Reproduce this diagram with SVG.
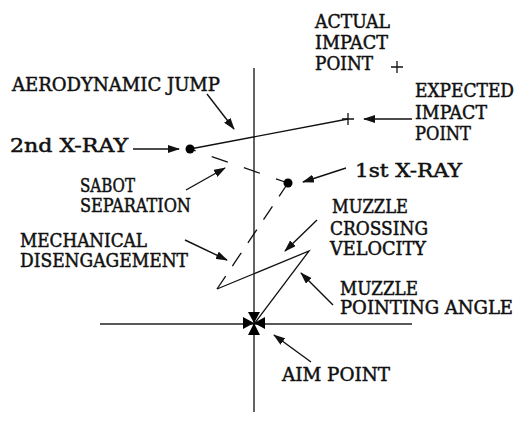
<svg xmlns="http://www.w3.org/2000/svg" width="519" height="425" viewBox="0 0 519 425">
<style>
text{font-family:"DejaVu Serif Condensed","DejaVu Serif",serif;font-stretch:condensed;font-size:18px;fill:#111;stroke:#111;stroke-width:0.45}
.ln{stroke:#111;stroke-width:1.3;fill:none}
.ax{stroke:#222;stroke-width:1.4;fill:none}
.ar{stroke:#111;stroke-width:1.4;fill:none;marker-end:url(#ah)}
.dash{stroke:#111;stroke-width:1.3;fill:none;stroke-dasharray:17 17}
.dash2{stroke:#111;stroke-width:1.3;fill:none;stroke-dasharray:16 12}
</style>
<defs>
<marker id="ah" markerWidth="12" markerHeight="8" refX="11" refY="4" orient="auto" markerUnits="userSpaceOnUse">
<path d="M0,0 L12,4 L0,8 Z" fill="#111"/>
</marker>
</defs>
<rect width="519" height="425" fill="#fff"/>
<g id="axes">
<line class="ax" x1="254" y1="68" x2="254" y2="412"/>
<line class="ax" x1="100" y1="324" x2="412" y2="324"/>
</g>
<g id="trajectory">
<line class="ln" x1="190" y1="149" x2="348" y2="119"/>
<line class="dash" x1="190" y1="149" x2="288" y2="183" stroke-dashoffset="-23"/>
<line class="dash2" x1="288" y1="183" x2="217" y2="289"/>
<polyline class="ln" points="217,289 309,251 254,324"/>
</g>
<g id="aim-point">
<path d="M254,323 L248,312 L260,312 Z M254,323 L248,335 L260,335 Z M254,323 L243,317 L243,329 Z M254,323 L265,317 L265,329 Z" fill="#000"/>
</g>
<g id="xray2"><circle cx="190" cy="149" r="4.5" fill="#000"/></g>
<g id="xray1"><circle cx="288" cy="183" r="4.5" fill="#000"/></g>
<g id="expected-impact"><path class="ln" d="M342,119 H354 M348,113 V125"/></g>
<g id="actual-impact"><path class="ln" d="M391,67 H403 M397,61 V73"/></g>
<g id="connectors">
<line class="ar" x1="207" y1="94" x2="234" y2="129"/>
<line class="ar" x1="133" y1="149" x2="179" y2="149"/>
<line class="ar" x1="186" y1="190" x2="225" y2="168"/>
<line class="ar" x1="412" y1="119" x2="364" y2="119"/>
<line class="ar" x1="346" y1="168" x2="303" y2="182"/>
<line class="ar" x1="185" y1="240" x2="227" y2="260"/>
<line class="ar" x1="317" y1="220" x2="285" y2="251"/>
<line class="ar" x1="333" y1="305" x2="301" y2="273"/>
<line class="ar" x1="311" y1="362" x2="274" y2="335"/>
</g>
<g id="labels">
<text x="12" y="91" textLength="208" lengthAdjust="spacingAndGlyphs">AERODYNAMIC  JUMP</text>
<text x="10" y="152" textLength="118" lengthAdjust="spacingAndGlyphs">2nd  X-RAY</text>
<text x="80" y="192" textLength="55" lengthAdjust="spacingAndGlyphs">SABOT</text>
<text x="80" y="212" textLength="111" lengthAdjust="spacingAndGlyphs">SEPARATION</text>
<text x="315" y="28" textLength="75" lengthAdjust="spacingAndGlyphs">ACTUAL</text>
<text x="315" y="49" textLength="73" lengthAdjust="spacingAndGlyphs">IMPACT</text>
<text x="315" y="70" textLength="58" lengthAdjust="spacingAndGlyphs">POINT</text>
<text x="415" y="97" textLength="99" lengthAdjust="spacingAndGlyphs">EXPECTED</text>
<text x="415" y="119" textLength="72" lengthAdjust="spacingAndGlyphs">IMPACT</text>
<text x="415" y="140" textLength="56" lengthAdjust="spacingAndGlyphs">POINT</text>
<text x="355" y="177" textLength="107" lengthAdjust="spacingAndGlyphs">1st  X-RAY</text>
<text x="332" y="213" textLength="76" lengthAdjust="spacingAndGlyphs">MUZZLE</text>
<text x="330" y="235" textLength="98" lengthAdjust="spacingAndGlyphs">CROSSING</text>
<text x="330" y="255" textLength="96" lengthAdjust="spacingAndGlyphs">VELOCITY</text>
<text x="20" y="247" textLength="127" lengthAdjust="spacingAndGlyphs">MECHANICAL</text>
<text x="20" y="267" textLength="168" lengthAdjust="spacingAndGlyphs">DISENGAGEMENT</text>
<text x="340" y="295" textLength="78" lengthAdjust="spacingAndGlyphs">MUZZLE</text>
<text x="340" y="314" textLength="173" lengthAdjust="spacingAndGlyphs">POINTING  ANGLE</text>
<text x="282" y="381" textLength="108" lengthAdjust="spacingAndGlyphs">AIM  POINT</text>
</g>
</svg>
